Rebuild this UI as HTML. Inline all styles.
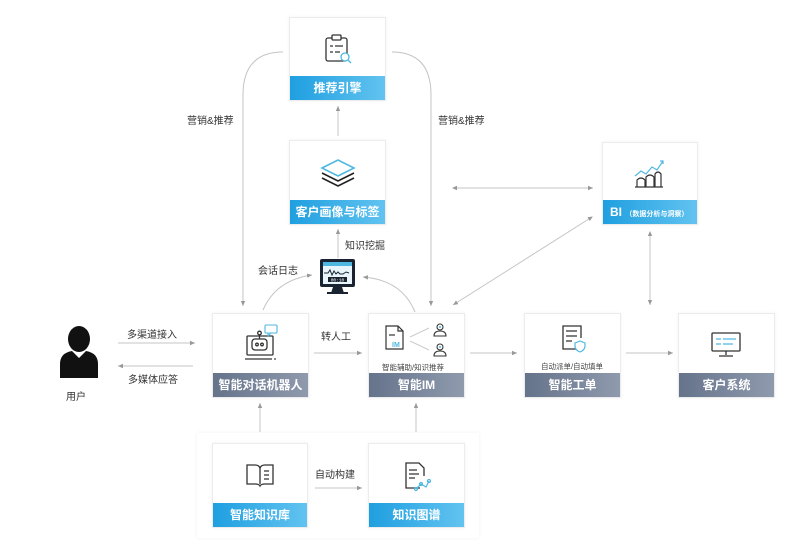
<!DOCTYPE html>
<html><head><meta charset="utf-8">
<style>
html,body{margin:0;padding:0;background:#fff;}
body{width:800px;height:550px;position:relative;overflow:hidden;font-family:"Liberation Sans","Noto Sans CJK SC",sans-serif;}
.box{position:absolute;background:#fff;border:1px solid #ececec;box-shadow:0 0 3px rgba(0,0,0,0.06);box-sizing:border-box;}
.bar{position:absolute;left:0;right:0;bottom:0;height:24px;color:#fff;font-weight:bold;font-size:12px;line-height:24px;text-align:center;letter-spacing:0;white-space:nowrap;overflow:hidden;}
.blue{background:linear-gradient(90deg,#1f9fe0,#62c3f0);}
.gray{background:linear-gradient(90deg,#65738b,#8f9aad);}
.lbl{position:absolute;font-size:10px;color:#333;white-space:nowrap;}
.cap{position:absolute;font-size:7.5px;color:#444;white-space:nowrap;transform:translateX(-50%);}
svg{position:absolute;left:0;top:0;}
</style></head><body>

<!-- bottom panel -->
<div style="position:absolute;left:197px;top:433px;width:282px;height:105px;background:#fff;box-shadow:0 0 4px rgba(0,0,0,0.06);"></div>

<div class="box" style="left:289px;top:17px;width:97px;height:84px;"><div class="bar blue">推荐引擎</div></div>
<div class="box" style="left:289px;top:140px;width:97px;height:85px;"><div class="bar blue">客户画像与标签</div></div>
<div class="box" style="left:602px;top:142px;width:96px;height:83px;"><div class="bar blue" style="text-align:left;padding-left:7px;">BI <span style="font-size:7px;">（数据分析与洞察）</span></div></div>
<div class="box" style="left:212px;top:313px;width:97px;height:85px;"><div class="bar gray">智能对话机器人</div></div>
<div class="box" style="left:368px;top:313px;width:97px;height:85px;"><div class="bar gray">智能IM</div></div>
<div class="box" style="left:524px;top:313px;width:97px;height:85px;"><div class="bar gray">智能工单</div></div>
<div class="box" style="left:678px;top:313px;width:97px;height:85px;"><div class="bar gray">客户系统</div></div>
<div class="box" style="left:212px;top:443px;width:96px;height:85px;"><div class="bar blue">智能知识库</div></div>
<div class="box" style="left:368px;top:443px;width:97px;height:85px;"><div class="bar blue">知识图谱</div></div>

<svg width="800" height="550" viewBox="0 0 800 550">
<defs>
<marker id="a" markerWidth="6" markerHeight="6" refX="5" refY="3" orient="auto" markerUnits="userSpaceOnUse"><path d="M0,0.8 L5,3 L0,5.2z" fill="#999"/></marker>
<marker id="s" markerWidth="6" markerHeight="6" refX="1" refY="3" orient="auto" markerUnits="userSpaceOnUse"><path d="M5,0.8 L0,3 L5,5.2z" fill="#999"/></marker>
</defs>
<g fill="none" stroke="#c4c4c4" stroke-width="1">
<path d="M283,52 Q243,52 243,95 L243,306" marker-end="url(#a)"/>
<path d="M392,52 Q431,52 431,95 L431,306" marker-end="url(#a)"/>
<path d="M338,136 L338,106" marker-end="url(#a)"/>
<path d="M338,258 L338,229" marker-end="url(#a)"/>
<path d="M263,310 Q276,280 312,275" marker-end="url(#a)"/>
<path d="M415,312 Q402,280 363,277" marker-end="url(#a)"/>
<path d="M453,188 L593,188" marker-start="url(#s)" marker-end="url(#a)"/>
<path d="M592,217 L453,305" marker-start="url(#s)" marker-end="url(#a)"/>
<path d="M650,232 L650,305" marker-start="url(#s)" marker-end="url(#a)"/>
<path d="M118,343 L195,343" marker-end="url(#a)"/>
<path d="M193,366 L118,366" marker-end="url(#a)"/>
<path d="M314,353 L362,353" marker-end="url(#a)"/>
<path d="M470,353 L517,353" marker-end="url(#a)"/>
<path d="M626,353 L673,353" marker-end="url(#a)"/>
<path d="M260,432 L260,403" marker-end="url(#a)"/>
<path d="M416,432 L416,403" marker-end="url(#a)"/>
<path d="M315,488 L362,488" marker-end="url(#a)"/>
</g>

<!-- user icon -->
<g fill="#111">
<ellipse cx="79" cy="339" rx="11" ry="13"/>
<path d="M60,378 L60,364 Q60,353 72,351 L79,358 L86,351 Q98,353 98,364 L98,378z"/>
</g>

<!-- recommend engine icon -->
<g fill="none" stroke="#333" stroke-width="1.3">
<rect x="326" y="38" width="21" height="23" rx="2"/>
<rect x="332" y="35" width="9" height="5" rx="1" fill="#fff"/>
<path d="M330,46 h3 M335,46 h8 M330,52 h3 M335,52 h5"/>
</g>
<circle cx="345" cy="57" r="4" fill="#fff" stroke="#4fb8e0" stroke-width="1.3"/>
<path d="M348,60 l3,3" stroke="#4fb8e0" stroke-width="1.3"/>

<!-- profile layers icon -->
<g fill="none" stroke-width="1.6">
<path d="M322,168 L338,160 L354,168 L338,176z" stroke="#4fb8e0"/>
<path d="M322,173 L338,181 L354,173" stroke="#222"/>
<path d="M322,178 L338,186 L354,178" stroke="#222"/>
</g>

<!-- BI icon -->
<g fill="none" stroke-width="1.2">
<path d="M635,176 L641,171 L646,174 L652,167 L657,170 L663,161" stroke="#4fb8e0"/>
<path d="M660,161 L663,161 L663,164" stroke="#4fb8e0"/>
<path d="M637,187 L637,180 Q641,176 645,180 L645,187 M646,187 L646,177 Q650,173 654,177 L654,187 M655,187 L655,174 Q658,170 661,174 L661,187 M635,187 L663,187" stroke="#333"/>
</g>

<!-- monitor icon -->
<g>
<rect x="320" y="259" width="35" height="28" rx="2" fill="#1a2430"/>
<rect x="323" y="262" width="29" height="22" fill="#e8f6fc"/>
<rect x="323" y="262" width="29" height="4" fill="#4fb8e0"/>
<path d="M324,273 l4,0 2,-3 2,5 2,-4 2,3 2,-2 2,2 3,0 3,-2 3,1" fill="none" stroke="#1a2430" stroke-width="1"/>
<rect x="328" y="277" width="19" height="5" fill="#1a2430"/>
<text x="337.5" y="281.3" font-size="4.5" fill="#fff" text-anchor="middle" font-family="Liberation Mono,monospace">00:10</text>
<path d="M333,287 L331,293 L344,293 L342,287z" fill="#1a2430"/>
<rect x="327" y="292" width="21" height="2" fill="#1a2430"/>
</g>

<!-- robot icon -->
<g fill="none" stroke="#333" stroke-width="1.3">
<rect x="247" y="336" width="26" height="19" rx="1"/>
<rect x="252" y="339" width="15" height="11" rx="3"/>
<circle cx="257" cy="344.5" r="1.3"/><circle cx="262" cy="344.5" r="1.3"/>
<path d="M259.5,339 v-4"/><circle cx="259.5" cy="333" r="1.8"/>
<path d="M245,359 h27"/>
</g>
<circle cx="275" cy="359" r="0.9" fill="#333"/>
<rect x="265" y="325" width="12" height="8" rx="1" fill="none" stroke="#4fb8e0" stroke-width="1.1"/>
<path d="M268,333 l0,3 3,-3" fill="none" stroke="#4fb8e0" stroke-width="1.1"/>

<!-- IM icon -->
<g fill="none" stroke="#333" stroke-width="1.2">
<path d="M386,326 h12 l5,5 v18 h-17z"/>
<path d="M398,326 v5 h5"/>
<path d="M389,335 h6"/>
</g>
<text x="392" y="347" font-size="7" fill="#4fb8e0" font-weight="bold">IM</text>
<path d="M410,337 L429,328 M410,341 L429,350" stroke="#ccc" stroke-width="1" fill="none"/>
<g fill="none" stroke="#333" stroke-width="1.1">
<circle cx="440" cy="327" r="3"/><path d="M434,336 q0,-5 6,-5 q6,0 6,5z"/>
<circle cx="440" cy="347" r="3"/><path d="M434,356 q0,-5 6,-5 q6,0 6,5z"/>
</g>
<circle cx="440" cy="327" r="1" fill="#4fb8e0"/><circle cx="440" cy="347" r="1" fill="#4fb8e0"/>

<!-- work order icon -->
<g fill="none" stroke="#333" stroke-width="1.3">
<path d="M578,349 h-15 v-23 h18 v12"/>
<path d="M566,331 h11 M566,336 h11 M566,341 h6"/>
</g>
<path d="M575,343 l5,-2 5,2 v3 q0,4 -5,6 q-5,-2 -5,-6z" fill="#fff" stroke="#4fb8e0" stroke-width="1.2"/>

<!-- customer system icon -->
<g fill="none" stroke="#333" stroke-width="1.3">
<rect x="712" y="333" width="28" height="18" rx="1"/>
<path d="M726,351 v4 M719,356 h14"/>
</g>
<path d="M716,339 h5 M716,344 h5 M723,339 h13 M723,344 h10" stroke="#4fb8e0" stroke-width="1.2"/>

<!-- knowledge base book icon -->
<g fill="none" stroke="#333" stroke-width="1.3">
<path d="M247,465 h8 q4,0 5,3 q1,-3 5,-3 h8 v19 h-8 q-4,0 -5,2 q-1,-2 -5,-2 h-8z"/>
<path d="M260,468 v16"/>
<path d="M264,471 h5 M264,475 h5 M264,479 h5"/>
</g>

<!-- knowledge graph icon -->
<g fill="none" stroke="#333" stroke-width="1.3">
<path d="M420,488 h-14 v-25 h13 l5,5 v8"/>
<path d="M409,470 h8 M409,474 h10 M409,478 h6"/>
</g>
<g fill="none" stroke="#4fb8e0" stroke-width="1.2">
<path d="M416,489 L421,484 L426,487 L429,481"/>
<circle cx="416" cy="489" r="1.5"/><circle cx="421" cy="484" r="1.5"/><circle cx="429" cy="481" r="1.5"/>
</g>
</svg>

<div class="lbl" style="left:187px;top:112px;">营销&amp;推荐</div>
<div class="lbl" style="left:438px;top:112px;">营销&amp;推荐</div>
<div class="lbl" style="left:345px;top:237px;">知识挖掘</div>
<div class="lbl" style="left:258px;top:262px;">会话日志</div>
<div class="lbl" style="left:321px;top:328px;">转人工</div>
<div class="lbl" style="left:127px;top:326px;">多渠道接入</div>
<div class="lbl" style="left:128px;top:371px;">多媒体应答</div>
<div class="lbl" style="left:66px;top:388px;">用户</div>
<div class="lbl" style="left:315px;top:466px;">自动构建</div>
<div class="cap" style="left:413px;top:362px;">智能辅助/知识推荐</div>
<div class="cap" style="left:572px;top:361px;">自动派单/自动填单</div>

</body></html>
